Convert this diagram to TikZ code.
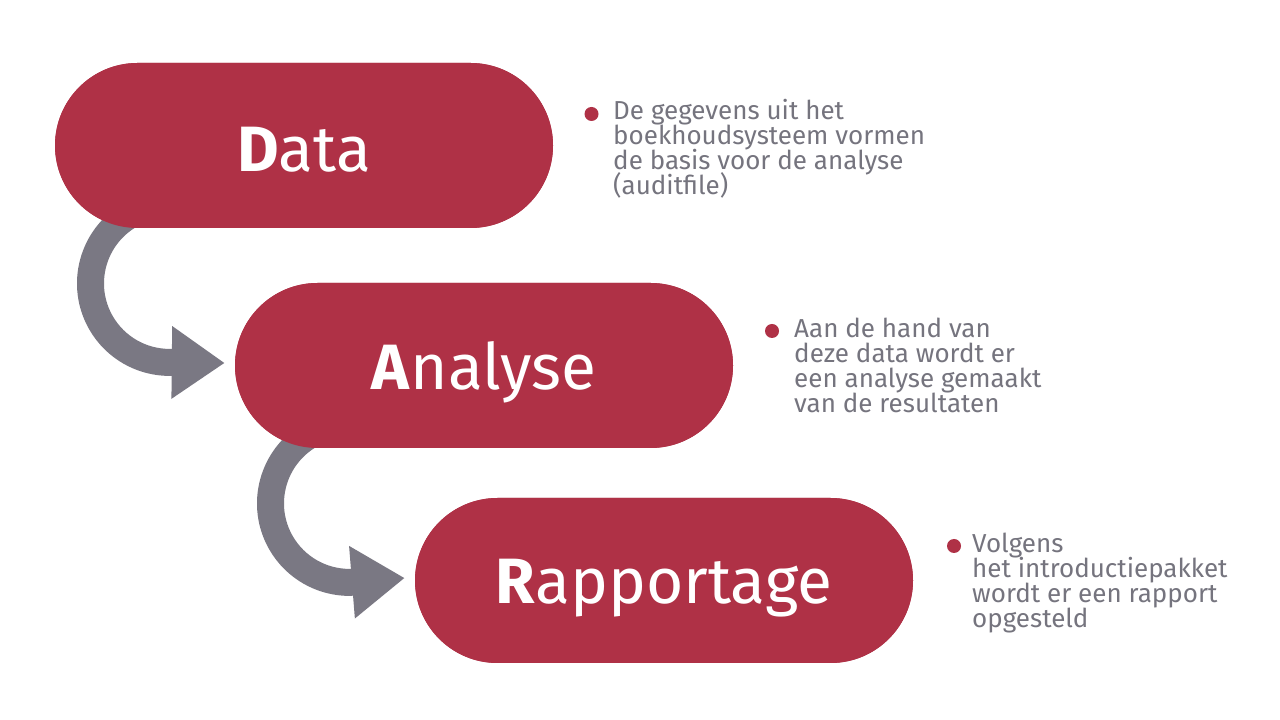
\documentclass[tikz,border=0pt]{standalone}
\usepackage{fontspec}
\setmainfont{Fira Sans}
\usetikzlibrary{shapes.misc,arrows.meta,calc}
\definecolor{pillred}{HTML}{AF3146}
\definecolor{arrowgray}{HTML}{7A7883}
\definecolor{textgray}{HTML}{75747E}
\newcommand\desclines[1]{\begin{tabular}[b]{@{}l@{}}#1\end{tabular}}
\newcommand\dl[1]{\smash{#1}}
\tikzset{
  pill/.style={rounded rectangle,fill=pillred,draw=none,minimum width=498pt,minimum height=165pt,inner sep=0pt},
  pilltext/.style={anchor=base,text=white,font=\fontsize{64}{64}\selectfont,inner sep=0pt},
  flow/.style={draw=arrowgray,line width=27pt,-{Triangle[length=53pt,width=69pt]}},
  bullet/.style={circle,fill=pillred,minimum size=14pt,inner sep=0pt},
  desc/.style={anchor=base west,text=textgray,font=\fontsize{26}{25}\selectfont,inner sep=0pt}
}
\begin{document}
\begin{tikzpicture}[x=1pt,y=1pt]
\useasboundingbox[fill=white] (0,0) rectangle (1280,720);
% pills (positions)
\path (304,574.5) coordinate (cdata) (484,354.5) coordinate (canalyse) (664,139.5) coordinate (crapport);
\node[pill] (data) at (cdata) {};
\node[pill] (analyse) at (canalyse) {};
\node[pill] (rapport) at (crapport) {};
% arrows
\draw[flow] ($(data.center)+(-174,-69.5)$) arc[start angle=120,end angle=270,radius=79] -- ($(analyse.west)+(-10,2.5)$);
\draw[flow] ($(analyse.center)+(-174,-69.5)$) arc[start angle=120,end angle=270,radius=79] -- ($(rapport.west)+(-10,2.5)$);
% redraw pills on top
\node[pill] at (cdata) {};
\node[pill] at (canalyse) {};
\node[pill] at (crapport) {};
% pill texts
\node[pilltext] (tdata) at ($(data.center)+(0,-26)$) {\textbf{D}ata};
\node[pilltext] (tanalyse) at ($(analyse.center)+(0,-24)$) {\textbf{A}nalyse};
\node[pilltext] (trapport) at ($(rapport.center)+(0,-23)$) {\textbf{R}apportage};
% bullets and descriptions (anchor = baseline of last line)
\node[bullet] (b1) at (591.5,606) {};
\node[desc] (d1) at (613,525) {\desclines{\dl{De gegevens uit het}\\\dl{boekhoudsysteem vormen}\\\dl{de basis voor de analyse}\\\dl{(auditfile)}}};
\node[bullet] (b2) at (772,389) {};
\node[desc] (d2) at (794,307) {\desclines{\dl{Aan de hand van}\\\dl{deze data wordt er}\\\dl{een analyse gemaakt}\\\dl{van de resultaten}}};
\node[bullet] (b3) at (954,174) {};
\node[desc] (d3) at (972,92) {\desclines{\dl{Volgens}\\\dl{het introductiepakket}\\\dl{wordt er een rapport}\\\dl{opgesteld}}};
\end{tikzpicture}
\end{document}
